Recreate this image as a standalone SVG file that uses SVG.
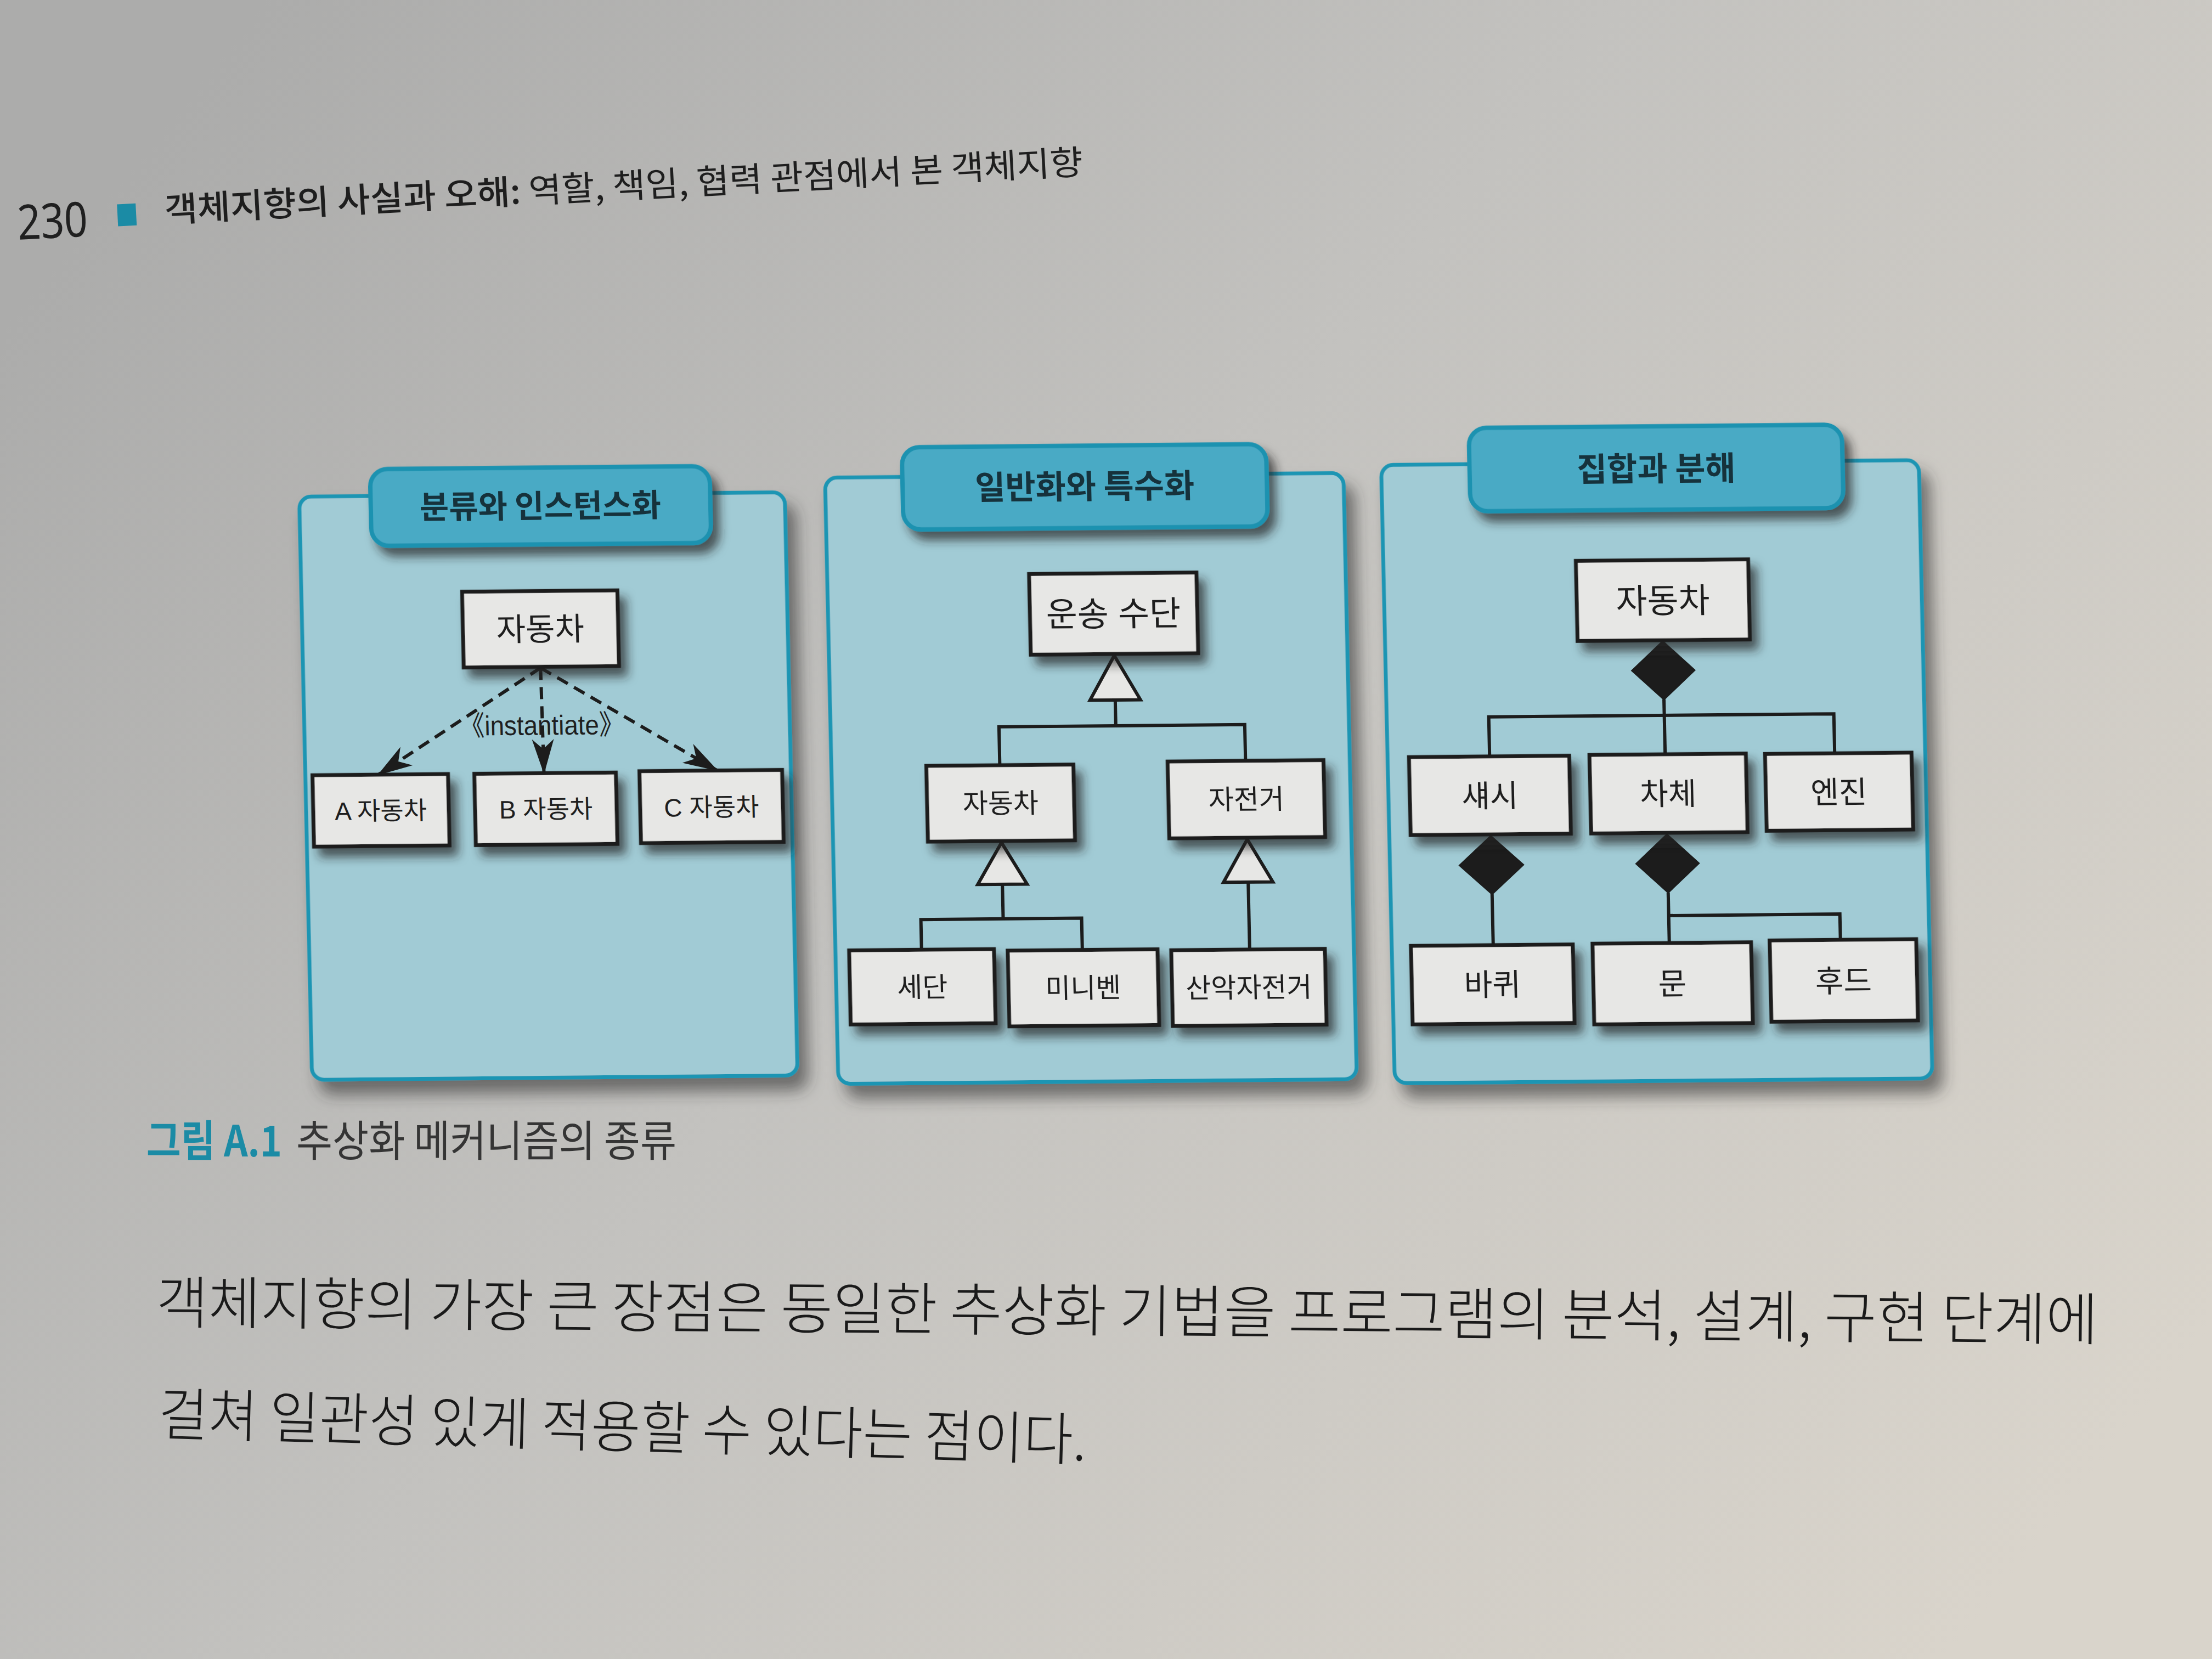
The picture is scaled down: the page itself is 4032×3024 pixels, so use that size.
<svg xmlns="http://www.w3.org/2000/svg" width="4032" height="3024" viewBox="0 0 4032 3024">
<defs>
  <linearGradient id="page" x1="0" y1="0.2" x2="1" y2="0.8">
    <stop offset="0" stop-color="#acacab"/>
    <stop offset="0.45" stop-color="#c3c2bf"/>
    <stop offset="1" stop-color="#d9d4cb"/>
  </linearGradient>
  <filter id="sh" x="-20%" y="-20%" width="150%" height="150%">
    <feDropShadow dx="12" dy="16" stdDeviation="9" flood-color="#222" flood-opacity="0.7"/>
  </filter>
  <filter id="psh" x="-10%" y="-10%" width="130%" height="130%">
    <feDropShadow dx="16" dy="24" stdDeviation="14" flood-color="#333" flood-opacity="0.6"/>
  </filter>
  <marker id="arr" viewBox="0 0 64 44" refX="62" refY="22" markerWidth="64" markerHeight="44" markerUnits="userSpaceOnUse" orient="auto">
    <path d="M0,2 L64,22 L0,42 L18,22 Z" fill="#1c1c1c"/>
  </marker>
  <style>
    .panel{fill:#a1cbd5;stroke:#1f95b3;stroke-width:7}
    .tab{fill:#4aaac5;stroke:#1f92b0;stroke-width:8}
    .tabt{font-family:"Noto Sans CJK KR",sans-serif;font-weight:bold;fill:#16323c;text-anchor:middle}
    .box{fill:#e7e7e5;stroke:#1c1c1c;stroke-width:7}
    .bt{font-family:"Liberation Sans","Noto Sans CJK KR",sans-serif;fill:#1e1e1e;text-anchor:middle}
    .ln{stroke:#1c1c1c;stroke-width:6;fill:none}
    .dash{stroke:#1c1c1c;stroke-width:6;fill:none;stroke-dasharray:22 13}
    .tri{fill:#e7e7e5;stroke:#1c1c1c;stroke-width:6}
    .dia{fill:#1c1c1c;stroke:#1c1c1c;stroke-width:3}
    .kr{font-family:"Noto Sans CJK KR",sans-serif}
  </style>
</defs>
<rect x="0" y="0" width="4032" height="3024" fill="url(#page)"/>

<!-- header -->
<g id="header" transform="rotate(-3 301 405)">
  <text x="32" y="423" font-family="Noto Sans, sans-serif" font-size="88" fill="#202020" textLength="128" lengthAdjust="spacingAndGlyphs">230</text>
  <rect x="215" y="368" width="34" height="40" fill="#1b8ba5"/>
  <text class="kr" x="301" y="405" font-size="62" fill="#1e1e1e" textLength="1676" lengthAdjust="spacingAndGlyphs"><tspan font-weight="500">객체지향의 사실과 오해:</tspan> 역할, 책임, 협력 관점에서 본 객체지향</text>
</g>

<g id="figure" transform="matrix(1,-0.009,0.022,1,-31.24,18.27)">
  <!-- panels -->
  <g id="panel1">
    <rect class="panel" x="557" y="892" width="885" height="1063" rx="22" filter="url(#psh)"/>
    <rect class="tab" x="687" y="843" width="619" height="140" rx="32" filter="url(#sh)"/>
    <text class="tabt" x="996" y="934" font-size="58">분류와 인스턴스화</text>
  </g>
  <g id="panel2">
    <rect class="panel" x="1516" y="866" width="945" height="1105" rx="22" filter="url(#psh)"/>
    <rect class="tab" x="1657" y="812" width="664" height="150" rx="32" filter="url(#sh)"/>
    <text class="tabt" x="1989" y="908" font-size="60">일반화와 특수화</text>
  </g>
  <g id="panel3">
    <rect class="panel" x="2530" y="852" width="980" height="1127" rx="22" filter="url(#psh)"/>
    <rect class="tab" x="2691" y="786" width="680" height="152" rx="32" filter="url(#sh)"/>
    <text class="tabt" x="3031" y="885" font-size="60">집합과 분해</text>
  </g>

  <!-- connectors -->
  <g id="connectors">
    <line class="dash" x1="990" y1="1208" x2="690" y2="1400" marker-end="url(#arr)"/>
    <line class="dash" x1="990" y1="1208" x2="992" y2="1400" marker-end="url(#arr)"/>
    <line class="dash" x1="990" y1="1208" x2="1308" y2="1398" marker-end="url(#arr)"/>
    <text x="990" y="1330" font-family="Liberation Sans, Noto Sans CJK KR, sans-serif" font-size="50" fill="#1e1e1e" text-anchor="middle" textLength="300" lengthAdjust="spacingAndGlyphs">《instantiate》</text>

    <polyline class="ln" points="2036,1276 2036,1323"/>
    <polyline class="ln" points="1823,1393 1823,1323 2271,1323 2271,1389"/>
    <polygon class="tri" points="2036,1195 2082,1276 1990,1276"/>
    <polyline class="ln" points="1823,1610 1823,1673"/>
    <polyline class="ln" points="1673,1728 1673,1673 1966,1673 1966,1731"/>
    <polygon class="tri" points="1823,1534 1868,1610 1778,1610"/>
    <polyline class="ln" points="2271,1610 2271,1733"/>
    <polygon class="tri" points="2271,1532 2316,1610 2226,1610"/>

    <polyline class="ln" points="3036,1284 3036,1384"/>
    <polyline class="ln" points="2716,1385 2716,1313 3345,1313 3345,1385"/>
    <polygon class="dia" points="3036,1178 3093,1231 3036,1284 2979,1231"/>
    <polyline class="ln" points="2715,1636 2715,1729"/>
    <polygon class="dia" points="2715,1530 2773,1583 2715,1636 2657,1583"/>
    <polyline class="ln" points="3036,1636 3036,1728"/>
    <polyline class="ln" points="3036,1678 3348,1678 3348,1725"/>
    <polygon class="dia" points="3036,1530 3093,1583 3036,1636 2979,1583"/>
  </g>

  <!-- panel 1 nodes -->
  <g id="p1-car"><rect class="box" x="850" y="1068" width="283" height="138" filter="url(#sh)"/><text class="bt" x="991" y="1158" font-size="58">자동차</text></g>
  <g id="p1-a"><rect class="box" x="570" y="1400" width="247" height="130" filter="url(#sh)"/><text class="bt" x="693" y="1482" font-size="46">A 자동차</text></g>
  <g id="p1-b"><rect class="box" x="865" y="1400" width="258" height="130" filter="url(#sh)"/><text class="bt" x="994" y="1482" font-size="46">B 자동차</text></g>
  <g id="p1-c"><rect class="box" x="1166" y="1398" width="260" height="131" filter="url(#sh)"/><text class="bt" x="1296" y="1481" font-size="46">C 자동차</text></g>

  <!-- panel 2 nodes -->
  <g id="p2-vehicle"><rect class="box" x="1884" y="1045" width="305" height="147" filter="url(#sh)"/><text class="bt" x="2036" y="1141" font-size="62">운송 수단</text></g>
  <g id="p2-car"><rect class="box" x="1689" y="1393" width="268" height="138" filter="url(#sh)"/><text class="bt" x="1823" y="1480" font-size="50">자동차</text></g>
  <g id="p2-bike"><rect class="box" x="2129" y="1389" width="284" height="140" filter="url(#sh)"/><text class="bt" x="2271" y="1477" font-size="50">자전거</text></g>
  <g id="p2-sedan"><rect class="box" x="1541" y="1728" width="264" height="135" filter="url(#sh)"/><text class="bt" x="1673" y="1814" font-size="50">세단</text></g>
  <g id="p2-minivan"><rect class="box" x="1830" y="1731" width="273" height="138" filter="url(#sh)"/><text class="bt" x="1966" y="1818" font-size="50">미니벤</text></g>
  <g id="p2-mtb"><rect class="box" x="2128" y="1733" width="280" height="138" filter="url(#sh)"/><text class="bt" x="2268" y="1820" font-size="50">산악자전거</text></g>

  <!-- panel 3 nodes -->
  <g id="p3-car"><rect class="box" x="2881" y="1030" width="314" height="146" filter="url(#sh)"/><text class="bt" x="3038" y="1126" font-size="62">자동차</text></g>
  <g id="p3-chassis"><rect class="box" x="2569" y="1385" width="292" height="142" filter="url(#sh)"/><text class="bt" x="2715" y="1477" font-size="56">섀시</text></g>
  <g id="p3-body"><rect class="box" x="2898" y="1384" width="285" height="143" filter="url(#sh)"/><text class="bt" x="3040" y="1476" font-size="56">차체</text></g>
  <g id="p3-engine"><rect class="box" x="3218" y="1385" width="267" height="140" filter="url(#sh)"/><text class="bt" x="3351" y="1476" font-size="56">엔진</text></g>
  <g id="p3-wheel"><rect class="box" x="2565" y="1729" width="295" height="143" filter="url(#sh)"/><text class="bt" x="2712" y="1821" font-size="56">바퀴</text></g>
  <g id="p3-door"><rect class="box" x="2896" y="1728" width="289" height="147" filter="url(#sh)"/><text class="bt" x="3040" y="1822" font-size="56">문</text></g>
  <g id="p3-hood"><rect class="box" x="3219" y="1725" width="267" height="148" filter="url(#sh)"/><text class="bt" x="3352" y="1820" font-size="56">후드</text></g>
</g>

<!-- caption -->
<g id="caption">
  <text class="kr" x="267" y="2108" font-size="78" font-weight="bold" fill="#1b8ba5" textLength="247" lengthAdjust="spacingAndGlyphs">그림 A.1</text>
  <text class="kr" x="540" y="2108" font-size="78" fill="#353535" textLength="693" lengthAdjust="spacingAndGlyphs">추상화 메커니즘의 종류</text>
</g>

<!-- body text -->
<g id="body">
  <text class="kr" x="284" y="2412" font-size="104" font-weight="300" fill="#1a1a1a" transform="rotate(0.5 284 2412)" textLength="3540" lengthAdjust="spacingAndGlyphs">객체지향의 가장 큰 장점은 동일한 추상화 기법을 프로그램의 분석, 설계, 구현 단계에</text>
  <text class="kr" x="288" y="2615" font-size="104" font-weight="300" fill="#1a1a1a" transform="rotate(1.6 288 2615)" textLength="1692" lengthAdjust="spacingAndGlyphs">걸쳐 일관성 있게 적용할 수 있다는 점이다.</text>
</g>
</svg>
